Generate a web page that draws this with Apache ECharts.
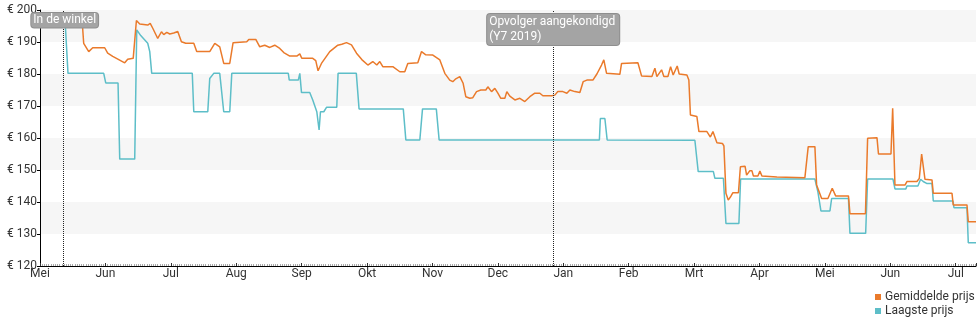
<!DOCTYPE html>
<html>
<head>
<meta charset="utf-8">
<script src="https://cdn.jsdelivr.net/npm/echarts@6/dist/echarts.min.js"></script>
<style>
  html, body { margin: 0; padding: 0; background: #fff; }
  #chart { width: 980px; height: 325px; }
</style>
</head>
<body>
<div id="chart"></div>
<script>
// Month ticks, one per month from May 2018 to July 2019
const monthLabels = ['Mei', 'Jun', 'Jul', 'Aug', 'Sep', 'Okt', 'Nov', 'Dec', 'Jan', 'Feb', 'Mrt', 'Apr', 'Mei', 'Jun', 'Jul'];

// Time is measured in months since 1 May 2018
const avgT = [0, 0.393, 0.638, 0.668, 0.745, 0.806, 0.989, 1.035, 1.112, 1.204, 1.295, 1.341, 1.425, 1.474, 1.525, 1.647, 1.685, 1.724, 1.800, 1.857, 1.892, 1.938, 1.984, 2.045, 2.106, 2.162, 2.228, 2.351, 2.396, 2.595, 2.672, 2.748, 2.809, 2.901, 2.952, 3.161, 3.192, 3.299, 3.360, 3.436, 3.513, 3.589, 3.666, 3.727, 3.819, 3.926, 3.972, 4.002, 4.170, 4.216, 4.251, 4.303, 4.430, 4.553, 4.614, 4.686, 4.762, 4.839, 4.920, 5.012, 5.088, 5.149, 5.195, 5.241, 5.394, 5.501, 5.577, 5.623, 5.776, 5.833, 5.898, 6.006, 6.113, 6.189, 6.264, 6.311, 6.357, 6.418, 6.469, 6.510, 6.571, 6.617, 6.674, 6.740, 6.816, 6.847, 6.903, 6.954, 7.000, 7.045, 7.107, 7.137, 7.183, 7.260, 7.336, 7.412, 7.489, 7.565, 7.642, 7.688, 7.825, 7.871, 7.917, 7.994, 8.055, 8.101, 8.177, 8.254, 8.304, 8.361, 8.453, 8.514, 8.585, 8.620, 8.662, 8.865, 8.891, 9.141, 9.197, 9.355, 9.401, 9.431, 9.503, 9.538, 9.600, 9.641, 9.680, 9.742, 9.772, 9.890, 9.920, 9.944, 10.043, 10.074, 10.196, 10.249, 10.288, 10.349, 10.433, 10.456, 10.487, 10.522, 10.563, 10.594, 10.678, 10.708, 10.779, 10.803, 10.853, 10.884, 10.907, 10.976, 11.006, 11.037, 11.266, 11.694, 11.745, 11.847, 11.873, 11.898, 11.950, 12.046, 12.112, 12.164, 12.360, 12.383, 12.620, 12.653, 12.796, 12.819, 13.010, 13.036, 13.071, 13.224, 13.254, 13.407, 13.443, 13.479, 13.530, 13.637, 13.657, 13.943, 13.962, 14.172, 14.192, 14.310];
const avgPrice = [198.8, 198.7, 198.5, 189.6, 187.0, 188.2, 188.2, 186.5, 185.5, 184.5, 183.5, 184.6, 184.9, 196.7, 195.6, 195.3, 195.8, 194.3, 191.1, 193.2, 192.3, 193.0, 192.5, 192.8, 193.3, 190.1, 189.6, 189.6, 187.0, 187.0, 189.6, 188.5, 183.3, 183.3, 189.8, 190.1, 190.8, 190.8, 188.5, 189.0, 188.3, 189.0, 188.0, 186.7, 185.6, 185.6, 186.3, 184.9, 184.9, 184.2, 181.0, 183.3, 187.0, 189.0, 189.3, 189.8, 189.1, 186.5, 184.5, 182.8, 183.9, 182.8, 183.9, 182.3, 182.3, 180.7, 180.7, 183.3, 183.5, 187.0, 186.0, 185.9, 184.4, 180.2, 178.1, 177.6, 178.5, 179.2, 177.1, 172.9, 172.4, 172.6, 174.5, 175.0, 175.0, 176.0, 174.5, 175.5, 174.0, 172.4, 172.4, 174.5, 173.1, 171.9, 172.4, 171.4, 172.9, 174.0, 174.0, 173.2, 173.2, 173.4, 174.5, 174.5, 174.0, 175.0, 174.5, 174.2, 177.6, 178.1, 178.1, 180.0, 182.8, 184.4, 180.2, 179.9, 183.3, 183.5, 179.4, 179.2, 181.8, 179.2, 181.3, 179.2, 179.2, 182.3, 179.7, 182.5, 180.0, 179.7, 178.1, 167.2, 166.7, 162.0, 162.0, 160.3, 162.0, 158.5, 158.3, 157.5, 142.7, 140.6, 141.8, 142.9, 142.9, 151.0, 151.2, 148.4, 149.8, 149.8, 148.1, 148.1, 149.7, 148.1, 147.8, 147.6, 157.3, 157.3, 145.3, 144.8, 141.1, 141.1, 144.3, 141.9, 141.9, 136.3, 136.3, 159.9, 160.1, 155.0, 155.0, 169.3, 145.3, 145.3, 146.4, 146.4, 147.4, 155.0, 147.1, 146.9, 142.7, 142.7, 139.1, 139.1, 133.8, 133.8];

const lowT = [0, 0.378, 0.428, 0.974, 1.005, 1.193, 1.219, 1.448, 1.479, 1.540, 1.647, 1.678, 1.708, 2.328, 2.351, 2.565, 2.595, 2.656, 2.748, 2.809, 2.901, 2.932, 3.796, 3.811, 3.949, 3.972, 3.998, 4.124, 4.170, 4.232, 4.267, 4.288, 4.339, 4.380, 4.537, 4.557, 4.836, 4.878, 5.554, 5.593, 5.807, 5.848, 6.059, 6.102, 8.552, 8.567, 8.636, 8.671, 10.012, 10.063, 10.295, 10.318, 10.448, 10.487, 10.685, 10.711, 11.847, 11.893, 11.939, 12.077, 12.103, 12.360, 12.383, 12.623, 12.653, 13.040, 13.071, 13.238, 13.254, 13.422, 13.463, 13.503, 13.555, 13.637, 13.657, 13.958, 13.973, 14.172, 14.192, 14.310];
const lowPrice = [198.8, 198.8, 180.2, 180.2, 177.2, 177.2, 153.4, 153.4, 193.8, 192.0, 189.6, 187.0, 180.2, 180.2, 168.2, 168.2, 178.6, 180.2, 180.2, 168.2, 168.2, 180.2, 180.2, 178.1, 178.1, 180.2, 174.2, 174.2, 171.9, 168.2, 162.5, 168.2, 168.2, 169.6, 169.6, 180.2, 180.2, 169.1, 169.1, 159.4, 159.4, 169.1, 169.1, 159.4, 159.4, 166.1, 166.1, 159.4, 159.3, 149.5, 149.5, 147.4, 147.4, 133.3, 133.3, 147.2, 147.2, 143.2, 137.2, 137.2, 141.1, 141.1, 130.2, 130.2, 147.2, 147.2, 144.1, 144.1, 145.0, 145.0, 147.1, 146.4, 145.8, 145.8, 140.3, 140.3, 138.2, 138.2, 127.3, 127.3];

// Annotated moments
const eventT = [0.347, 7.845];
const eventLabels = ['In de winkel', 'Opvolger aangekondigd\n(Y7 2019)'];

const avgName = 'Gemiddelde prijs';
const lowName = 'Laagste prijs';
const avgColor = '#ea7a2b';
const lowColor = '#5dbec8';
const font = 'Roboto, "Noto Sans", sans-serif';

const zip = (xs, ys) => xs.map((x, i) => [x, ys[i]]);

const chart = echarts.init(document.getElementById('chart'), null, { renderer: 'canvas' });

chart.setOption({
  animation: false,
  grid: { left: 40, right: 4, top: 10, bottom: 59, containLabel: false },
  legend: {
    orient: 'vertical',
    left: 875,
    top: 290,
    padding: 0,
    icon: 'rect',
    itemWidth: 6,
    itemHeight: 6,
    itemGap: 0,
    data: [avgName, lowName],
    textStyle: { fontFamily: font, fontSize: 12, color: '#333', lineHeight: 14, padding: [0, 0, 0, -1] }
  },
  xAxis: {
    type: 'value',
    min: 0,
    max: 14.31,
    interval: 1,
    axisLine: { show: true, lineStyle: { color: '#000', width: 1 } },
    axisTick: { show: true, inside: true, length: 3, lineStyle: { color: '#333' } },
    minorTick: { show: true, splitNumber: 30, length: 2, lineStyle: { color: '#aaa' } },
    splitLine: { show: false },
    axisLabel: {
      margin: 2,
      fontFamily: font,
      fontSize: 12,
      color: '#333',
      showMaxLabel: false,
      formatter: v => (Number.isInteger(v) ? monthLabels[v] : '')
    }
  },
  yAxis: {
    type: 'value',
    min: 120,
    max: 200,
    interval: 10,
    axisLine: { show: true, lineStyle: { color: '#000', width: 1 } },
    axisTick: { show: true, length: 3, lineStyle: { color: '#000' } },
    splitLine: { show: false },
    splitArea: { show: true, areaStyle: { color: ['#ffffff', '#f6f6f6'] } },
    axisLabel: {
      margin: 3,
      fontFamily: font,
      fontSize: 12,
      color: '#333',
      formatter: v => '€ ' + v
    }
  },
  series: [
    {
      name: lowName,
      type: 'line',
      data: zip(lowT, lowPrice),
      showSymbol: false,
      color: lowColor,
      lineStyle: { width: 1.5, color: lowColor },
      z: 2
    },
    {
      name: avgName,
      type: 'line',
      data: zip(avgT, avgPrice),
      showSymbol: false,
      color: avgColor,
      lineStyle: { width: 1.5, color: avgColor },
      z: 3,
      markLine: {
        silent: true,
        symbol: ['none', 'none'],
        label: { show: false },
        lineStyle: { type: 'dotted', color: '#222', width: 1 },
        data: eventT.map(t => ({ xAxis: t }))
      },
      markPoint: {
        silent: true,
        symbol: 'circle',
        symbolSize: 0,
        data: eventT.map((t, i) => ({
          coord: [t, 200],
          label: {
            show: true,
            position: 'inside',
            formatter: eventLabels[i],
            align: i === 0 ? 'center' : 'left',
            verticalAlign: 'top',
            offset: i === 0 ? [2, 3] : [-66, 4],
            color: '#fff',
            fontFamily: font,
            fontSize: 12,
            lineHeight: 14.5,
            backgroundColor: '#a4a4a4',
            borderColor: '#8f8f8f',
            borderWidth: 1,
            borderRadius: 3,
            padding: i === 0 ? [0, 2, 0, 2] : [1, 4, 1, 2]
          }
        }))
      }
    }
  ]
});
</script>
</body>
</html>
